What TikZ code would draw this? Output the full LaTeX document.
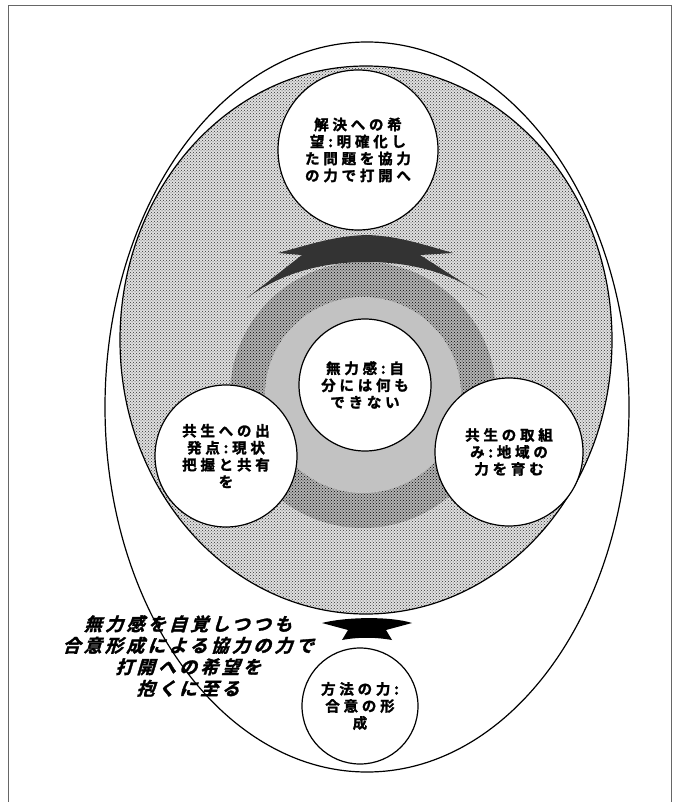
\documentclass[tikz,border=0pt]{standalone}
\usepackage{fontspec}
\usetikzlibrary{patterns}
\newfontfamily\jpb{Noto Sans CJK JP Bold}[LetterSpace=26,FakeBold=1.6]
\newfontfamily\jpsl{Noto Sans CJK JP Bold}[FakeSlant=0.3,LetterSpace=18,FakeBold=1.8]

\begin{document}
\begin{tikzpicture}[x=1pt,y=1pt,
    bub/.style={circle, draw, line width=1.2pt, fill=white, inner sep=0pt,
        align=center, font=\jpb\fontsize{14.5}{17}\selectfont},
    dotfill/.style={preaction={fill=black!12}, pattern=crosshatch dots, pattern color=black!80}]
    \useasboundingbox (0,0) rectangle (673,-802);
    % frame
    \draw[black!60, line width=0.8pt] (8,-802)--(8,-5)--(671,-5)--(671,-802);
    % egg and shaded field
    \draw[line width=1.2pt, fill=white] (367,-407) ellipse[x radius=262, y radius=365];
    \draw[line width=1.2pt, dotfill] (366,-340) ellipse[x radius=246, y radius=274];
    \fill[preaction={fill=black!30}, pattern=crosshatch dots, pattern color=black] (363,-395) circle[radius=133];
    \fill[black!24] (363,-395) circle[radius=98];
    % upward band
    \fill[black!80] (278,-253) .. controls (315,-243) and (335,-236) .. (367,-235)
        .. controls (397,-236) and (418,-243) .. (453,-253) -- (420,-255) -- (487,-298)
        .. controls (454,-274) and (414,-262) .. (367,-262)
        .. controls (320,-262) and (280,-274) .. (247,-298) -- (302,-255) -- cycle;
    \node[bub, minimum size=132pt] (self) at (365,-385) {無力感:自\\分には何も\\できない};
    \node[bub, minimum size=160pt] (hope) at (358,-150) {解決への希\\望:明確化し\\た問題を協力\\の力で打開へ};
    \node[bub, minimum size=142pt] (start) at (226,-456) {共生への出\\発点:現状\\把握と共有\\を};
    \node[bub, minimum size=148pt] (work) at (509,-452) {共生の取組\\み:地域の\\力を育む};
    % arrow from below
    \fill (322,-623) .. controls (345,-617) and (390,-616) .. (412,-623) -- (386,-630)
        -- (392,-640) .. controls (375,-637) and (358,-637) .. (342,-640) -- (348,-630) -- cycle;
    \node[bub, minimum size=116pt] (method) at (360,-706) {方法の力:\\合意の形\\成};
    \node[align=center, font=\jpsl\fontsize{18}{21.5}\selectfont] (note) at (188,-656)
        {無力感を自覚しつつも\\合意形成による協力の力で\\打開への希望を\\抱くに至る};
\end{tikzpicture}
\end{document}
